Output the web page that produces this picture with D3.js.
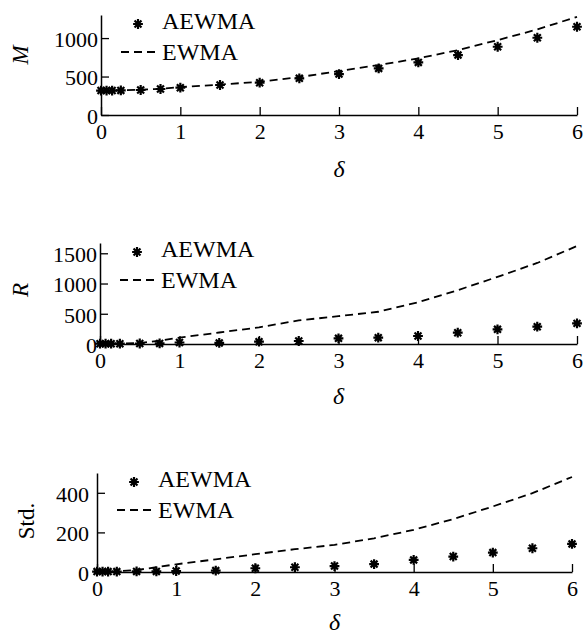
<!DOCTYPE html>
<html>
<head>
<meta charset="utf-8">
<script src="https://cdn.jsdelivr.net/npm/d3@7"></script>
<style>
  body { margin: 0; background: #fff; }
  svg { display: block; }
  text { font-family: "Liberation Serif", serif; fill: #000; }
</style>
</head>
<body>
<div id="chart"></div>
<script>
const delta = [0, 0.07, 0.14, 0.25, 0.5, 0.75, 1, 1.5, 2, 2.5, 3, 3.5, 4, 4.5, 5, 5.5, 6];

const mAewma = [318, 318, 318, 320, 325, 338, 355, 390, 420, 477, 532, 606, 684, 779, 887, 1004, 1147];
const mEwma = [318, 318, 319, 320, 328, 340, 362, 395, 432, 492, 572, 649, 736, 844, 974, 1112, 1277];

const rAewma = [5, 5, 5, 5, 8, 10, 25, 18, 38, 50, 94, 105, 132, 187, 242, 286, 341];
const rEwma = [3, 3, 4, 6, 15, 55, 105, 190, 275, 390, 460, 533, 690, 890, 1110, 1340, 1620];

const stdAewma = [2, 2, 2, 2, 3, 3, 5, 7, 19, 24, 30, 40, 61, 78, 98, 120, 142];
const stdEwma = [1, 1, 2, 3, 10, 24, 39, 64, 90, 115, 137, 170, 213, 267, 331, 398, 480];

const xTicks = [0, 1, 2, 3, 4, 5, 6];
const mTicks = [0, 500, 1000];
const rTicks = [0, 500, 1000, 1500];
const stdTicks = [0, 200, 400];

const width = 583;
const height = 636;
const serif = "Liberation Serif";

const panels = [
  { label: "M", italic: true, aewma: mAewma, ewma: mEwma, yMax: 1300, ticks: mTicks,
    left: 101, right: 577, top: 15, bottom: 115, labelGap: 3, labelY: 55, deltaY: 177 },
  { label: "R", italic: true, aewma: rAewma, ewma: rEwma, yMax: 1670, ticks: rTicks,
    left: 100, right: 577, top: 243, bottom: 344, labelGap: 3, labelY: 290, deltaY: 404 },
  { label: "Std.", italic: false, aewma: stdAewma, ewma: stdEwma, yMax: 500, ticks: stdTicks,
    left: 97, right: 572, top: 473, bottom: 572, labelGap: 8, labelY: 521, deltaY: 630 }
];

// eight-armed marker like a matlab '*'
const star8 = {
  draw(context, size) {
    const r = Math.sqrt(size) / 2;
    const d = r * 0.7071;
    context.moveTo(-r, 0); context.lineTo(r, 0);
    context.moveTo(0, -r); context.lineTo(0, r);
    context.moveTo(-d, -d); context.lineTo(d, d);
    context.moveTo(-d, d); context.lineTo(d, -d);
  }
};
const marker = d3.symbol().type(star8).size(96);

const svg = d3.select("#chart")
  .append("svg")
  .attr("width", width)
  .attr("height", height)
  .attr("font-family", serif);

panels.forEach((p) => {
  const x = d3.scaleLinear().domain([0, 6]).range([p.left, p.right]);
  const y = d3.scaleLinear().domain([0, p.yMax]).range([p.bottom, p.top]);

  const g = svg.append("g");

  const xAxis = g.append("g")
    .attr("transform", `translate(0,${p.bottom})`)
    .call(d3.axisBottom(x).tickValues(xTicks).tickFormat(d3.format("d"))
      .tickSizeInner(-8).tickSizeOuter(0).tickPadding(8));

  const yAxis = g.append("g")
    .attr("transform", `translate(${p.left},0)`)
    .call(d3.axisLeft(y).tickValues(p.ticks).tickFormat(d3.format("d"))
      .tickSizeInner(-8).tickSizeOuter(0).tickPadding(p.labelGap));

  [xAxis, yAxis].forEach((a) => {
    a.attr("font-family", serif).attr("font-size", 22);
    a.select(".domain").attr("stroke", "#000").attr("stroke-width", 1.5);
    a.selectAll(".tick line").attr("stroke", "#000").attr("stroke-width", 1.3);
    a.selectAll(".tick text").attr("fill", "#000");
  });
  yAxis.selectAll(".tick text").attr("dy", "0.38em");

  // EWMA dashed line
  const line = d3.line()
    .x((d, i) => x(delta[i]))
    .y((d) => y(d));

  g.append("path")
    .datum(p.ewma)
    .attr("fill", "none")
    .attr("stroke", "#000")
    .attr("stroke-width", 1.8)
    .attr("stroke-dasharray", "8,5")
    .attr("d", line);

  // AEWMA markers
  g.selectAll(".pt")
    .data(p.aewma)
    .enter()
    .append("path")
    .attr("class", "pt")
    .attr("transform", (d, i) => `translate(${x(delta[i])},${y(d)})`)
    .attr("d", marker)
    .attr("fill", "none")
    .attr("stroke", "#000")
    .attr("stroke-width", 2.2);

  // legend
  g.append("path")
    .attr("transform", `translate(${p.left + 37},${p.top + 9})`)
    .attr("d", marker)
    .attr("fill", "none")
    .attr("stroke", "#000")
    .attr("stroke-width", 2.2);
  g.append("text")
    .attr("x", p.left + 61)
    .attr("y", p.top + 14)
    .attr("font-size", 24)
    .text("AEWMA");

  g.append("line")
    .attr("x1", p.left + 20)
    .attr("x2", p.left + 55)
    .attr("y1", p.top + 37)
    .attr("y2", p.top + 37)
    .attr("stroke", "#000")
    .attr("stroke-width", 1.8)
    .attr("stroke-dasharray", "8,5");
  g.append("text")
    .attr("x", p.left + 61)
    .attr("y", p.top + 45)
    .attr("font-size", 24)
    .text("EWMA");

  // axis titles
  g.append("text")
    .attr("x", (p.left + p.right) / 2)
    .attr("y", p.deltaY)
    .attr("text-anchor", "middle")
    .attr("font-size", 24)
    .attr("font-style", "italic")
    .text("δ");

  g.append("text")
    .attr("transform", `translate(${p.italic ? 28 : 34},${p.labelY}) rotate(-90)`)
    .attr("text-anchor", "middle")
    .attr("font-size", 23)
    .attr("font-style", p.italic ? "italic" : "normal")
    .text(p.label);
});
</script>
</body>
</html>
